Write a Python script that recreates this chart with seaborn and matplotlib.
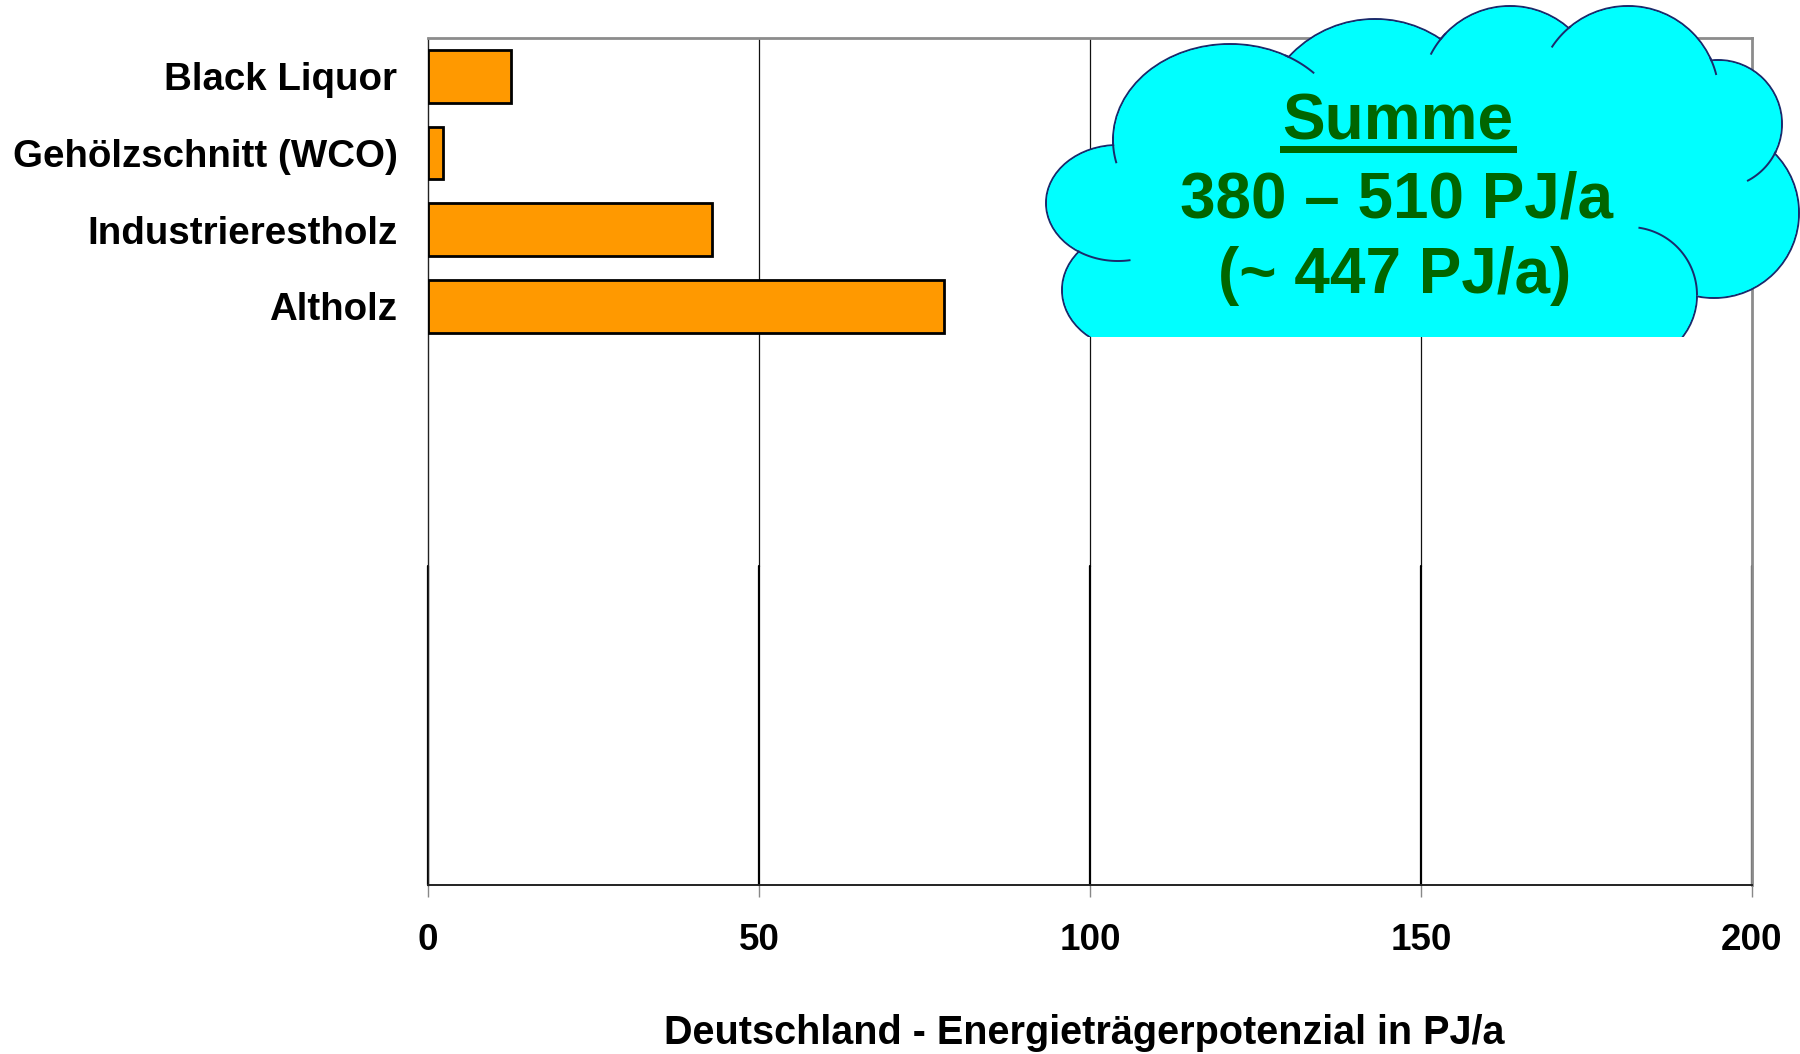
import numpy as np
import pandas as pd
import matplotlib
matplotlib.use("Agg")
import matplotlib.pyplot as plt
import seaborn as sns
from matplotlib.patches import Ellipse, Polygon, Rectangle

# Energy carrier potential for Germany (PJ/a)
categories = ["Black Liquor", "Gehölzschnitt (WCO)", "Industrierestholz", "Altholz"]
potential_pj = [12.6, 2.3, 42.9, 78.0]
x_ticks = [0, 50, 100, 150, 200]
x_label = "Deutschland - Energieträgerpotenzial in PJ/a"
cloud_lines = ["Summe", "380 – 510 PJ/a", "(~ 447 PJ/a)"]

sns.set_theme(style="white")
plt.rcParams["font.family"] = ["Liberation Sans", "DejaVu Sans"]
plt.rcParams["font.weight"] = "bold"

W, H = 1800, 1054
fig = plt.figure(figsize=(W / 100, H / 100), dpi=100, facecolor="white")

# main plotting area (pixel box 428..1752 x 38..885)
ax = fig.add_axes([428 / W, 1 - 885 / H, (1752 - 428) / W, (885 - 38) / H])
ax.set_facecolor("white")

df = pd.DataFrame({"Kategorie": categories, "PJ": potential_pj})
sns.barplot(data=df, x="PJ", y="Kategorie", orient="h", color="#FF9900",
            saturation=1, edgecolor="black", linewidth=2.0, width=0.69,
            ax=ax, zorder=3)

ax.set_xlim(0, 200)
ax.set_ylim(10.55, -0.5)

# vertical grid lines: thin upper part, heavier lower part
split = 0.377
for v in x_ticks[1:-1]:
    ax.axvline(v, ymin=split, ymax=1, color="#111111", lw=0.9, zorder=1)
for v in x_ticks:
    ax.axvline(v, ymin=0, ymax=split, color="black", lw=1.6, zorder=1,
               clip_on=False)

for side in ["top", "right"]:
    ax.spines[side].set_color("#8c8c8c")
    ax.spines[side].set_linewidth(2.0)
ax.spines["left"].set_color("#222222")
ax.spines["left"].set_linewidth(1.0)
ax.spines["bottom"].set_color("#222222")
ax.spines["bottom"].set_linewidth(1.4)

ax.set_xticks(x_ticks)
ax.set_xticklabels([str(t) for t in x_ticks])
ax.tick_params(axis="x", bottom=True, length=8.6, width=1.0, color="#888888",
               direction="out", pad=19, labelsize=26.5, labelcolor="black")
ax.tick_params(axis="y", left=False, length=0, pad=22, labelsize=27.7,
               labelcolor="black")
for lab in ax.get_xticklabels() + ax.get_yticklabels():
    lab.set_fontweight("bold")

ax.set_ylabel("")
ax.set_xlabel(x_label, fontsize=28.5, fontweight="bold", color="black")
ax.xaxis.set_label_coords((1084 - 428) / (1752 - 428), (885 - 1033) / (885 - 38))
ax.xaxis.label.set_va("center")

# cloud callout drawn in pixel units on an overlay
cax = fig.add_axes([1000 / W, 1 - 337 / H, 800 / W, 337 / H])
cax.set_xlim(1000, 1800)
cax.set_ylim(337, 0)
cax.axis("off")
cax.patch.set_alpha(0)

cyan = "#00FFFF"
navy = "#1b2a6b"
bumps = [
    (1230, 140, 117, 96),
    (1118, 203, 72, 58),
    (1135, 290, 73, 60),
    (1375, 136, 117, 117),
    (1510, 95, 89, 89),
    (1628, 97, 91, 91),
    (1718, 124, 64, 64),
    (1714, 213, 85, 85),
    (1629, 295, 68, 68),
]
for cx, cy, rx, ry in bumps:
    cax.add_patch(Ellipse((cx, cy), 2 * rx, 2 * ry, fc=cyan, ec=navy, lw=1.4))

core = [(b[0], b[1]) for b in bumps[3:]] + [(1629, 345), (1135, 345)] + \
       [(bumps[2][0], bumps[2][1]), (bumps[1][0], bumps[1][1]), (bumps[0][0], bumps[0][1])]
cax.add_patch(Polygon(core, closed=True, fc=cyan, ec="none"))
for cx, cy, rx, ry in bumps:
    cax.add_patch(Ellipse((cx, cy), 2 * rx - 2, 2 * ry - 2, fc=cyan, ec="none"))

curls = [(0, 166, 182), (0, -62, -44), (1, 80, 124), (4, 207, 224),
         (5, 213, 231), (5, -26, -14), (6, 25, 63), (8, -82, 0)]
for i, t0, t1 in curls:
    cx, cy, rx, ry = bumps[i]
    t = np.radians(np.linspace(t0, t1, 60))
    cax.plot(cx + rx * np.cos(t), cy + ry * np.sin(t), color=navy, lw=1.4,
             solid_capstyle="butt")

green = "#006600"
baselines = [140, 217, 293]
centers = [1398, 1397, 1395]
texts = []
for s, xc, yb in zip(cloud_lines, centers, baselines):
    texts.append(cax.text(xc, yb, s, ha="center", va="baseline", fontsize=46,
                          fontweight="bold", color=green))

fig.canvas.draw()
bb = texts[0].get_window_extent(renderer=fig.canvas.get_renderer())
inv = cax.transData.inverted()
(x0, _), (x1, _) = inv.transform([(bb.x0, bb.y0), (bb.x1, bb.y0)])
cax.add_patch(Rectangle((x0 - 3, 146), (x1 - x0) + 6, 7, fc=green, ec="none"))

fig.savefig("out.png", dpi=100, facecolor="white")
